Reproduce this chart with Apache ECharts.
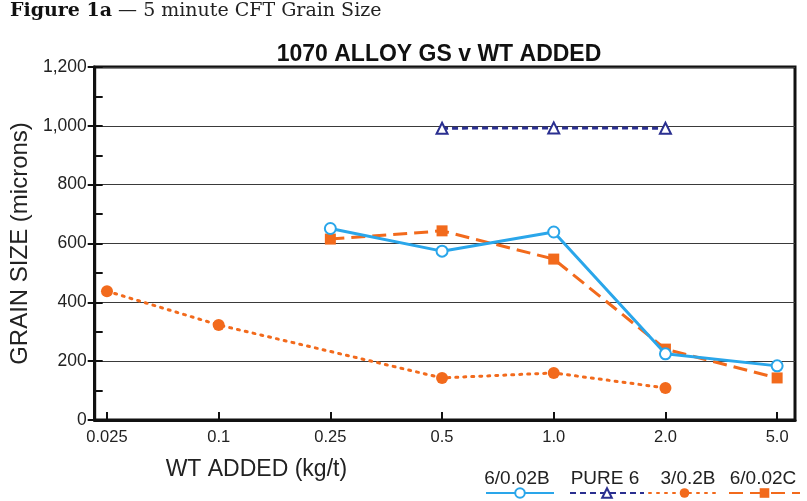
<!DOCTYPE html>
<html><head><meta charset="utf-8">
<script src="https://cdn.jsdelivr.net/npm/echarts@6/dist/echarts.min.js"></script>
<style>html,body{margin:0;padding:0;background:#fff}#c{width:807px;height:501px}</style>
</head><body><div id="c"></div>
<script>
const categories = ['0.025','0.1','0.25','0.5','1.0','2.0','5.0'];
const s_602B  = [null, null, 651, 574, 639, 225, 184];
const s_pure6 = [null, null, null, 992, 993, 992, null];
const s_302B  = [438, 323, null, 143, 160, 109, null];
const s_602C  = [null, null, 615, 643, 547, 241, 143];
const seriesNames = ['6/0.02B','PURE 6','3/0.2B','6/0.02C'];

const pts = arr => arr.map((v,i)=> v==null ? null : [i, v]).filter(p=>p);

const chart = echarts.init(document.getElementById('c'));
const sans = 'Liberation Sans, Arial, sans-serif';
const legendPos = [[485,68],[569,74],[648,71],[728,71]];
const labelX = [517, 605, 688, 763];
chart.setOption({
  animation:false,
  backgroundColor:'#fff',
  title:{text:'1070 ALLOY GS v WT ADDED', left:434, top:38, textAlign:'center',
    textStyle:{fontFamily:sans, fontWeight:'bold', fontSize:23, color:'#111'}},
  graphic:[
    {type:'text', left:10, top:2, style:{text:'{b|Figure 1a} — 5 minute CFT Grain Size', fontFamily:'DejaVu Serif, serif', fontSize:19, fill:'#222',
      rich:{b:{fontFamily:'DejaVu Serif, serif', fontWeight:'bold', fontSize:19, fill:'#111'}}}}
  ].concat(seriesNames.map((n,i)=>({type:'text', x:labelX[i], y:469, style:{text:n, textAlign:'center', fontFamily:sans, fontSize:19, fill:'#222'}}))),
  legend: seriesNames.map((n,i)=>({left:legendPos[i][0], top:487, padding:0, itemWidth:legendPos[i][1], itemHeight:12, itemGap:0,
    formatter:()=>'', textStyle:{fontSize:1, padding:0}, data:[n]})),
  grid:{left:92, right:12, top:67, bottom:81, show:true, borderColor:'#111', borderWidth:3},
  xAxis:{type:'value', min:-0.11, max:6.16,
    name:'WT ADDED (kg/t)', nameLocation:'middle', nameGap:38,
    nameTextStyle:{fontFamily:sans, fontSize:23, color:'#222', padding:[0,0,0,-377]},
    axisLine:{show:true, onZero:false, lineStyle:{color:'#111', width:3}},
    axisTick:{show:true, inside:true, length:8, customValues:[0,1,2,3,4,5,6], lineStyle:{color:'#111', width:2}},
    axisLabel:{customValues:[0,1,2,3,4,5,6], formatter:v=>categories[Math.round(v)], fontFamily:sans, fontSize:16.5, color:'#222', margin:9},
    splitLine:{show:false}},
  yAxis:[{type:'value', min:0, max:1200, interval:200,
    name:'GRAIN SIZE (microns)', nameLocation:'middle', nameGap:55,
    nameTextStyle:{fontFamily:sans, fontSize:24, color:'#222'},
    axisLine:{show:true, onZero:false, lineStyle:{color:'#111', width:3}},
    axisTick:{show:true, length:7, lineStyle:{color:'#111', width:2}},
    axisLabel:{formatter:v=>v.toLocaleString('en-US'), fontFamily:sans, fontSize:17.5, color:'#222', margin:8},
    splitLine:{show:true, lineStyle:{color:'#3a3a3a', width:1.2}}},
   {type:'value', min:0, max:1200, interval:100, position:'left',
    axisLine:{show:false, onZero:false}, axisLabel:{show:false}, splitLine:{show:false},
    axisTick:{show:true, inside:true, length:8, lineStyle:{color:'#111', width:2}}}],
  series:[
    {name:seriesNames[0], type:'line', data:pts(s_602B), symbol:'emptyCircle', symbolSize:11,
      lineStyle:{color:'#2aa6ea', width:3}, itemStyle:{color:'#2aa6ea', borderWidth:1.5}, z:4},
    {name:seriesNames[1], type:'line', data:pts(s_pure6), symbol:'emptyTriangle', symbolSize:11,
      lineStyle:{color:'#2a2f90', width:3, type:[6,4]}, itemStyle:{color:'#2a2f90', borderWidth:2}, z:3},
    {name:seriesNames[2], type:'line', data:pts(s_302B), symbol:'circle', symbolSize:12,
      lineStyle:{color:'#f26a1c', width:3, type:[2,6], cap:'round'}, itemStyle:{color:'#f26a1c'}, z:3},
    {name:seriesNames[3], type:'line', data:pts(s_602C), symbol:'rect', symbolSize:11,
      lineStyle:{color:'#f26a1c', width:3, type:[14,7]}, itemStyle:{color:'#f26a1c'}, z:3}
  ]
});
</script></body></html>
